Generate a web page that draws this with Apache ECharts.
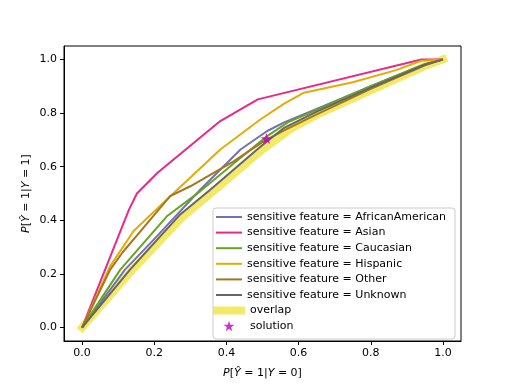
<!DOCTYPE html>
<html>
<head>
<meta charset="utf-8">
<script src="https://cdn.jsdelivr.net/npm/echarts@6/dist/echarts.min.js"></script>
<style>html,body{margin:0;padding:0;background:#fff;}#c{width:512px;height:384px;}</style>
</head>
<body>
<div id="c"></div>
<script>
// ---- data ----
const tickValues = [0, 0.2, 0.4, 0.6, 0.8, 1.0];
const seriesNames = [
  'sensitive feature = AfricanAmerican',
  'sensitive feature = Asian',
  'sensitive feature = Caucasian',
  'sensitive feature = Hispanic',
  'sensitive feature = Other',
  'sensitive feature = Unknown'
];
const africanAmerican = [[0,0],[0.119,0.216],[0.2,0.33],[0.328,0.515],[0.439,0.664],[0.513,0.733],[0.56,0.765],[0.65,0.815],[0.8,0.9],[0.95,0.982],[1,1]];
const asian = [[0,0],[0.13,0.44],[0.152,0.5],[0.21,0.578],[0.383,0.77],[0.487,0.851],[0.94,1],[1,1]];
const caucasian = [[0,0],[0.106,0.216],[0.235,0.415],[0.328,0.509],[0.467,0.664],[0.513,0.714],[0.57,0.765],[0.65,0.812],[0.8,0.9],[0.95,0.982],[1,1]];
const hispanic = [[0,0],[0.078,0.229],[0.143,0.36],[0.235,0.478],[0.383,0.664],[0.494,0.776],[0.56,0.835],[0.615,0.876],[0.75,0.915],[0.87,0.96],[0.94,0.995],[1,1]];
const other = [[0,0],[0.078,0.216],[0.112,0.28],[0.154,0.347],[0.244,0.49],[0.3,0.527],[0.42,0.62],[0.504,0.695],[0.56,0.735],[0.65,0.795],[0.8,0.89],[0.95,0.978],[1,1]];
const unknown = [[0,0],[0.133,0.216],[0.272,0.422],[0.356,0.515],[0.485,0.664],[0.513,0.695],[0.56,0.745],[0.65,0.805],[0.8,0.895],[0.95,0.98],[1,1]];
const overlap = [[0,0],[0.14,0.216],[0.28,0.415],[0.37,0.515],[0.5,0.664],[0.58,0.742],[0.66,0.8],[0.8,0.885],[0.95,0.975],[1,1]];
const solution = [[0.511,0.705]];
const lineColors = ['#7570b3','#e7298a','#66a61e','#e6ab02','#a6761d','#666666'];

// ---- chart ----
const FONT = 'DejaVu Sans';
const STAR_SHAPE = 'M0,-10 L2.245,-3.09 L9.511,-3.09 L3.633,1.18 L5.878,8.09 L0,3.82 L-5.878,8.09 L-3.633,1.18 L-9.511,-3.09 L-2.245,-3.09 Z';
const STAR = 'path://' + STAR_SHAPE;
const lineData = [africanAmerican, asian, caucasian, hispanic, other, unknown];

function axis(nameRich, isX) {
  return {
    type: 'value', min: -0.05, max: 1.05,
    name: nameRich, nameLocation: 'middle', nameGap: isX ? 27 : 32,
    nameMoveOverlap: false,
    nameTextStyle: {
      fontFamily: FONT, fontSize: 11, color: '#000',
      rich: { i: { fontFamily: FONT, fontSize: 11, fontStyle: 'italic', color: '#000' } }
    },
    axisLine: { show: true, onZero: false, lineStyle: { color: '#000', width: 1 } },
    axisTick: { show: true, inside: false, length: 4, lineStyle: { color: '#000' }, customValues: tickValues },
    axisLabel: { fontFamily: FONT, fontSize: 11, color: '#000', margin: 7,
      customValues: tickValues, formatter: v => v.toFixed(1) },
    splitLine: { show: false }
  };
}

const series = [];
series.push({
  name: 'overlap', type: 'line', data: overlap, symbol: 'none', z: 1,
  lineStyle: { color: 'rgba(240,228,66,0.8)', width: 8, cap: 'square', join: 'round' },
  itemStyle: { color: 'rgba(240,228,66,0.8)' }
});
seriesNames.forEach((n, i) => {
  series.push({
    name: n, type: 'line', data: lineData[i], symbol: 'none', z: 2,
    lineStyle: { color: lineColors[i], width: 2 },
    itemStyle: { color: lineColors[i] }
  });
});
series.push({
  name: 'solution', type: 'scatter', data: solution, symbol: STAR, symbolSize: [11.5, 11], z: 3,
  itemStyle: { color: '#bf00bf' }
});

const textStyle = { fontFamily: FONT, fontSize: 11, color: '#000', lineHeight: 12 };
const chart = echarts.init(document.getElementById('c'), null, { renderer: 'canvas' });
chart.setOption({
  animation: false,
  backgroundColor: '#fff',
  grid: { left: 64, right: 51, top: 46, bottom: 42, show: true, borderColor: '#000', borderWidth: 1, backgroundColor: 'transparent' },
  xAxis: axis('{i|P}[{i|Ŷ} = 1|{i|Y} = 0]', true),
  yAxis: axis('{i|P}[{i|Ŷ} = 1|{i|Y} = 1]', false),
  legend: [
    {
      orient: 'vertical', left: 213, top: 208, padding: [3, 9, 38, 3],
      itemWidth: 26, itemHeight: 2, itemGap: 3.6, icon: 'rect',
      backgroundColor: 'rgba(255,255,255,0.8)', borderColor: '#cccccc', borderWidth: 1, borderRadius: 3,
      textStyle: textStyle, data: seriesNames
    },
    {
      orient: 'vertical', left: 213, top: 304.5, padding: 0,
      itemWidth: 32, itemHeight: 8, textStyle: textStyle,
      data: [{ name: 'overlap', icon: 'rect' }]
    },
    {
      orient: 'vertical', left: 213, top: 320, padding: 0,
      itemWidth: 32, itemHeight: 12, textStyle: textStyle, symbolKeepAspect: true,
      data: [{ name: 'solution', icon: 'path://M-28,0 M28,0 ' + STAR_SHAPE }]
    }
  ],
  series: series
});
</script>
</body>
</html>
